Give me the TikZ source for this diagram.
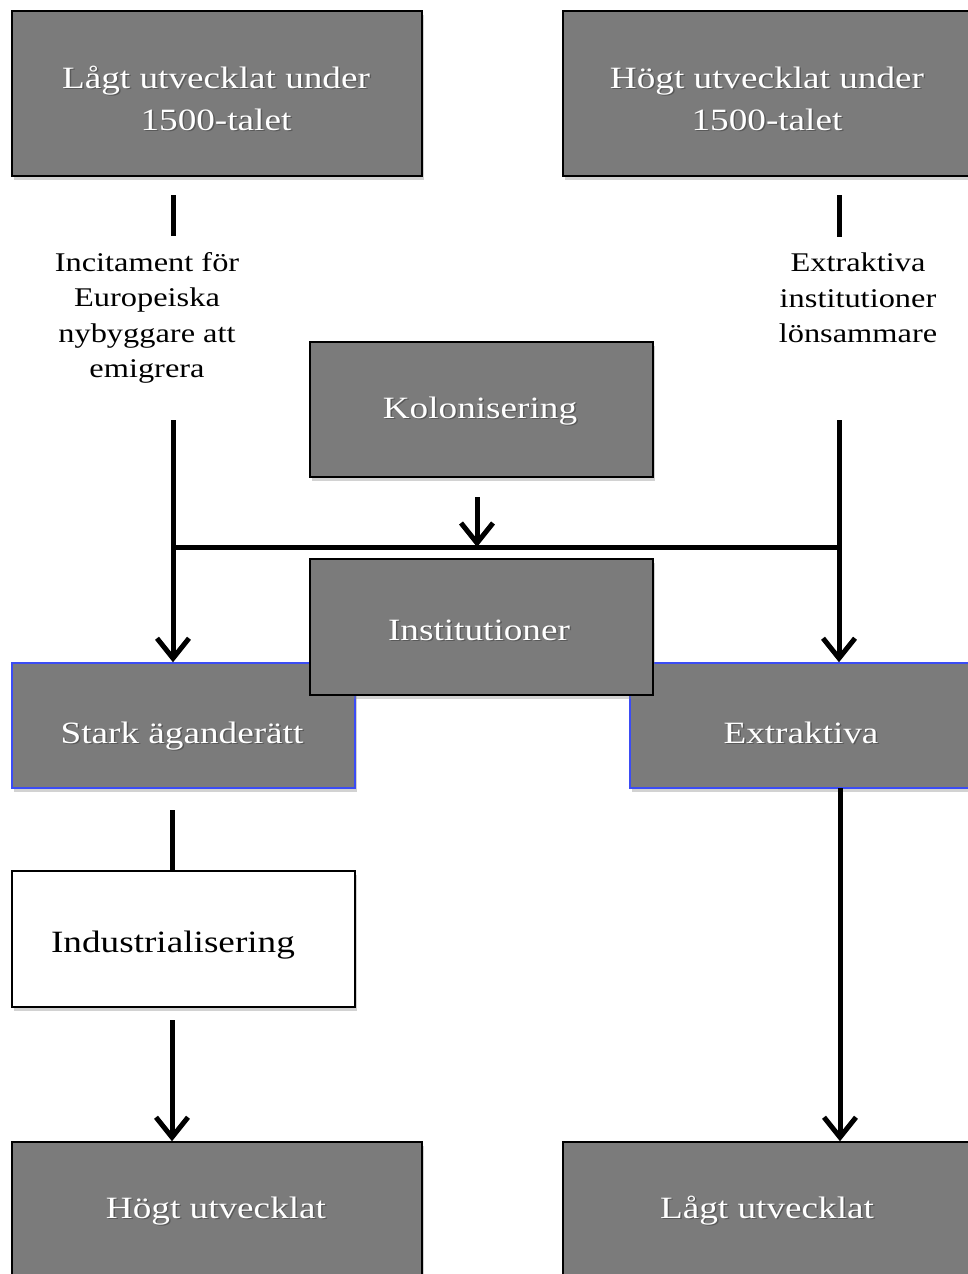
\documentclass[tikz,border=0pt]{standalone}
\usepackage{fontspec}
\setmainfont{Liberation Serif}[FakeStretch=1.2]
\usetikzlibrary{arrows.meta,shadows}
\definecolor{boxgray}{HTML}{7B7B7B}
\definecolor{bluebd}{HTML}{3B4CF5}
\newcommand\sht[1]{\leavevmode\rlap{\kern1.5pt\raisebox{-1.5pt}{\textcolor{black!65}{#1}}}#1}
\begin{document}
\begin{tikzpicture}[x=1pt,y=-1pt,
  boxbase/.style={line width=1.5pt, inner sep=0pt,
    drop shadow={shadow xshift=2pt,shadow yshift=-4pt,opacity=0.35}},
  graybox/.style={boxbase, draw=black, fill=boxgray},
  bluebox/.style={boxbase, draw=bluebd, fill=boxgray},
  whitebox/.style={boxbase, draw=black, fill=white},
  btxt/.style={anchor=base, inner sep=0pt, text=white, font=\fontsize{31}{42}\selectfont},
  dtxt/.style={anchor=base, inner sep=0pt, text=black, font=\fontsize{31}{42}\selectfont},
  lbl/.style={align=center, font=\fontsize{27}{35.5}\selectfont, inner sep=0pt},
  conn/.style={line width=5pt},
  arr/.style={conn, -{Straight Barb[length=20pt,width=32pt]}}]
\fill[white] (0,0) rectangle (967,1274);
\useasboundingbox (0,0) rectangle (967,1274);

% boxes
\node[graybox, minimum width=410pt, minimum height=165pt] (tl) at (217,93.5) {};
\node[graybox, minimum width=410pt, minimum height=165pt] (tr) at (768,93.5) {};
\node[graybox, minimum width=343pt, minimum height=135pt] (kol) at (481.5,409.5) {};
\node[bluebox, minimum width=343pt, minimum height=125pt] (stark) at (183.5,725.5) {};
\node[bluebox, minimum width=343pt, minimum height=125pt] (extr) at (801.5,725.5) {};
\node[graybox, minimum width=343pt, minimum height=136pt] (inst) at (481.5,627) {};
\node[whitebox, minimum width=343pt, minimum height=136pt] (ind) at (183.5,939) {};
\node[graybox, minimum width=410pt, minimum height=140pt] (bl) at (217,1212) {};
\node[graybox, minimum width=410pt, minimum height=140pt] (br) at (768,1212) {};

% box texts
\node[btxt] (tlt1) at (216,88) {\sht{Lågt utvecklat under}};
\node[btxt] (tlt2) at (216,130) {\sht{1500-talet}};
\node[btxt] (trt1) at (767,88) {\sht{Högt utvecklat under}};
\node[btxt] (trt2) at (767,130) {\sht{1500-talet}};
\node[btxt] (kolt) at (480,418) {\sht{Kolonisering}};
\node[btxt] (instt) at (479,640) {\sht{Institutioner}};
\node[btxt] (starkt) at (182,743) {\sht{Stark äganderätt}};
\node[btxt] (extrt) at (801,743) {\sht{Extraktiva}};
\node[dtxt] (indt) at (173,952) {Industrialisering};
\node[btxt] (blt) at (216,1218) {\sht{Högt utvecklat}};
\node[btxt] (brt) at (767,1218) {\sht{Lågt utvecklat}};

% labels
\node[lbl] (ll) at (147,318) {Incitament för\\Europeiska\\nybyggare att\\emigrera};
\node[lbl] (rl) at (858,298) {Extraktiva\\institutioner\\lönsammare};

% connector end points
\coordinate (a1) at (173,195);
\coordinate (a2) at (173,236);
\coordinate (a3) at (173,420);
\coordinate (b1) at (839,195);
\coordinate (b2) at (839,237);
\coordinate (b3) at (839,420);
\coordinate (jl) at (173,547);
\coordinate (jr) at (839,547);
\coordinate (k1) at (477,497);
\coordinate (c1) at (172,810);
\coordinate (c2) at (172,1020);
\coordinate (d1) at (840,788);

% connectors
\draw[conn] (a1) -- (a2);
\draw[conn] (b1) -- (b2);
\draw[arr] (a3) -- (a3 |- stark.north);
\draw[arr] (b3) -- (b3 |- extr.north);
\draw[conn] (jl) -- (jr);
\draw[arr] (k1) -- (k1 |- jl);
\draw[conn] (c1) -- (c1 |- ind.north);
\draw[arr] (c2) -- (c2 |- bl.north);
\draw[arr] (d1) -- (d1 |- br.north);
\end{tikzpicture}
\end{document}
